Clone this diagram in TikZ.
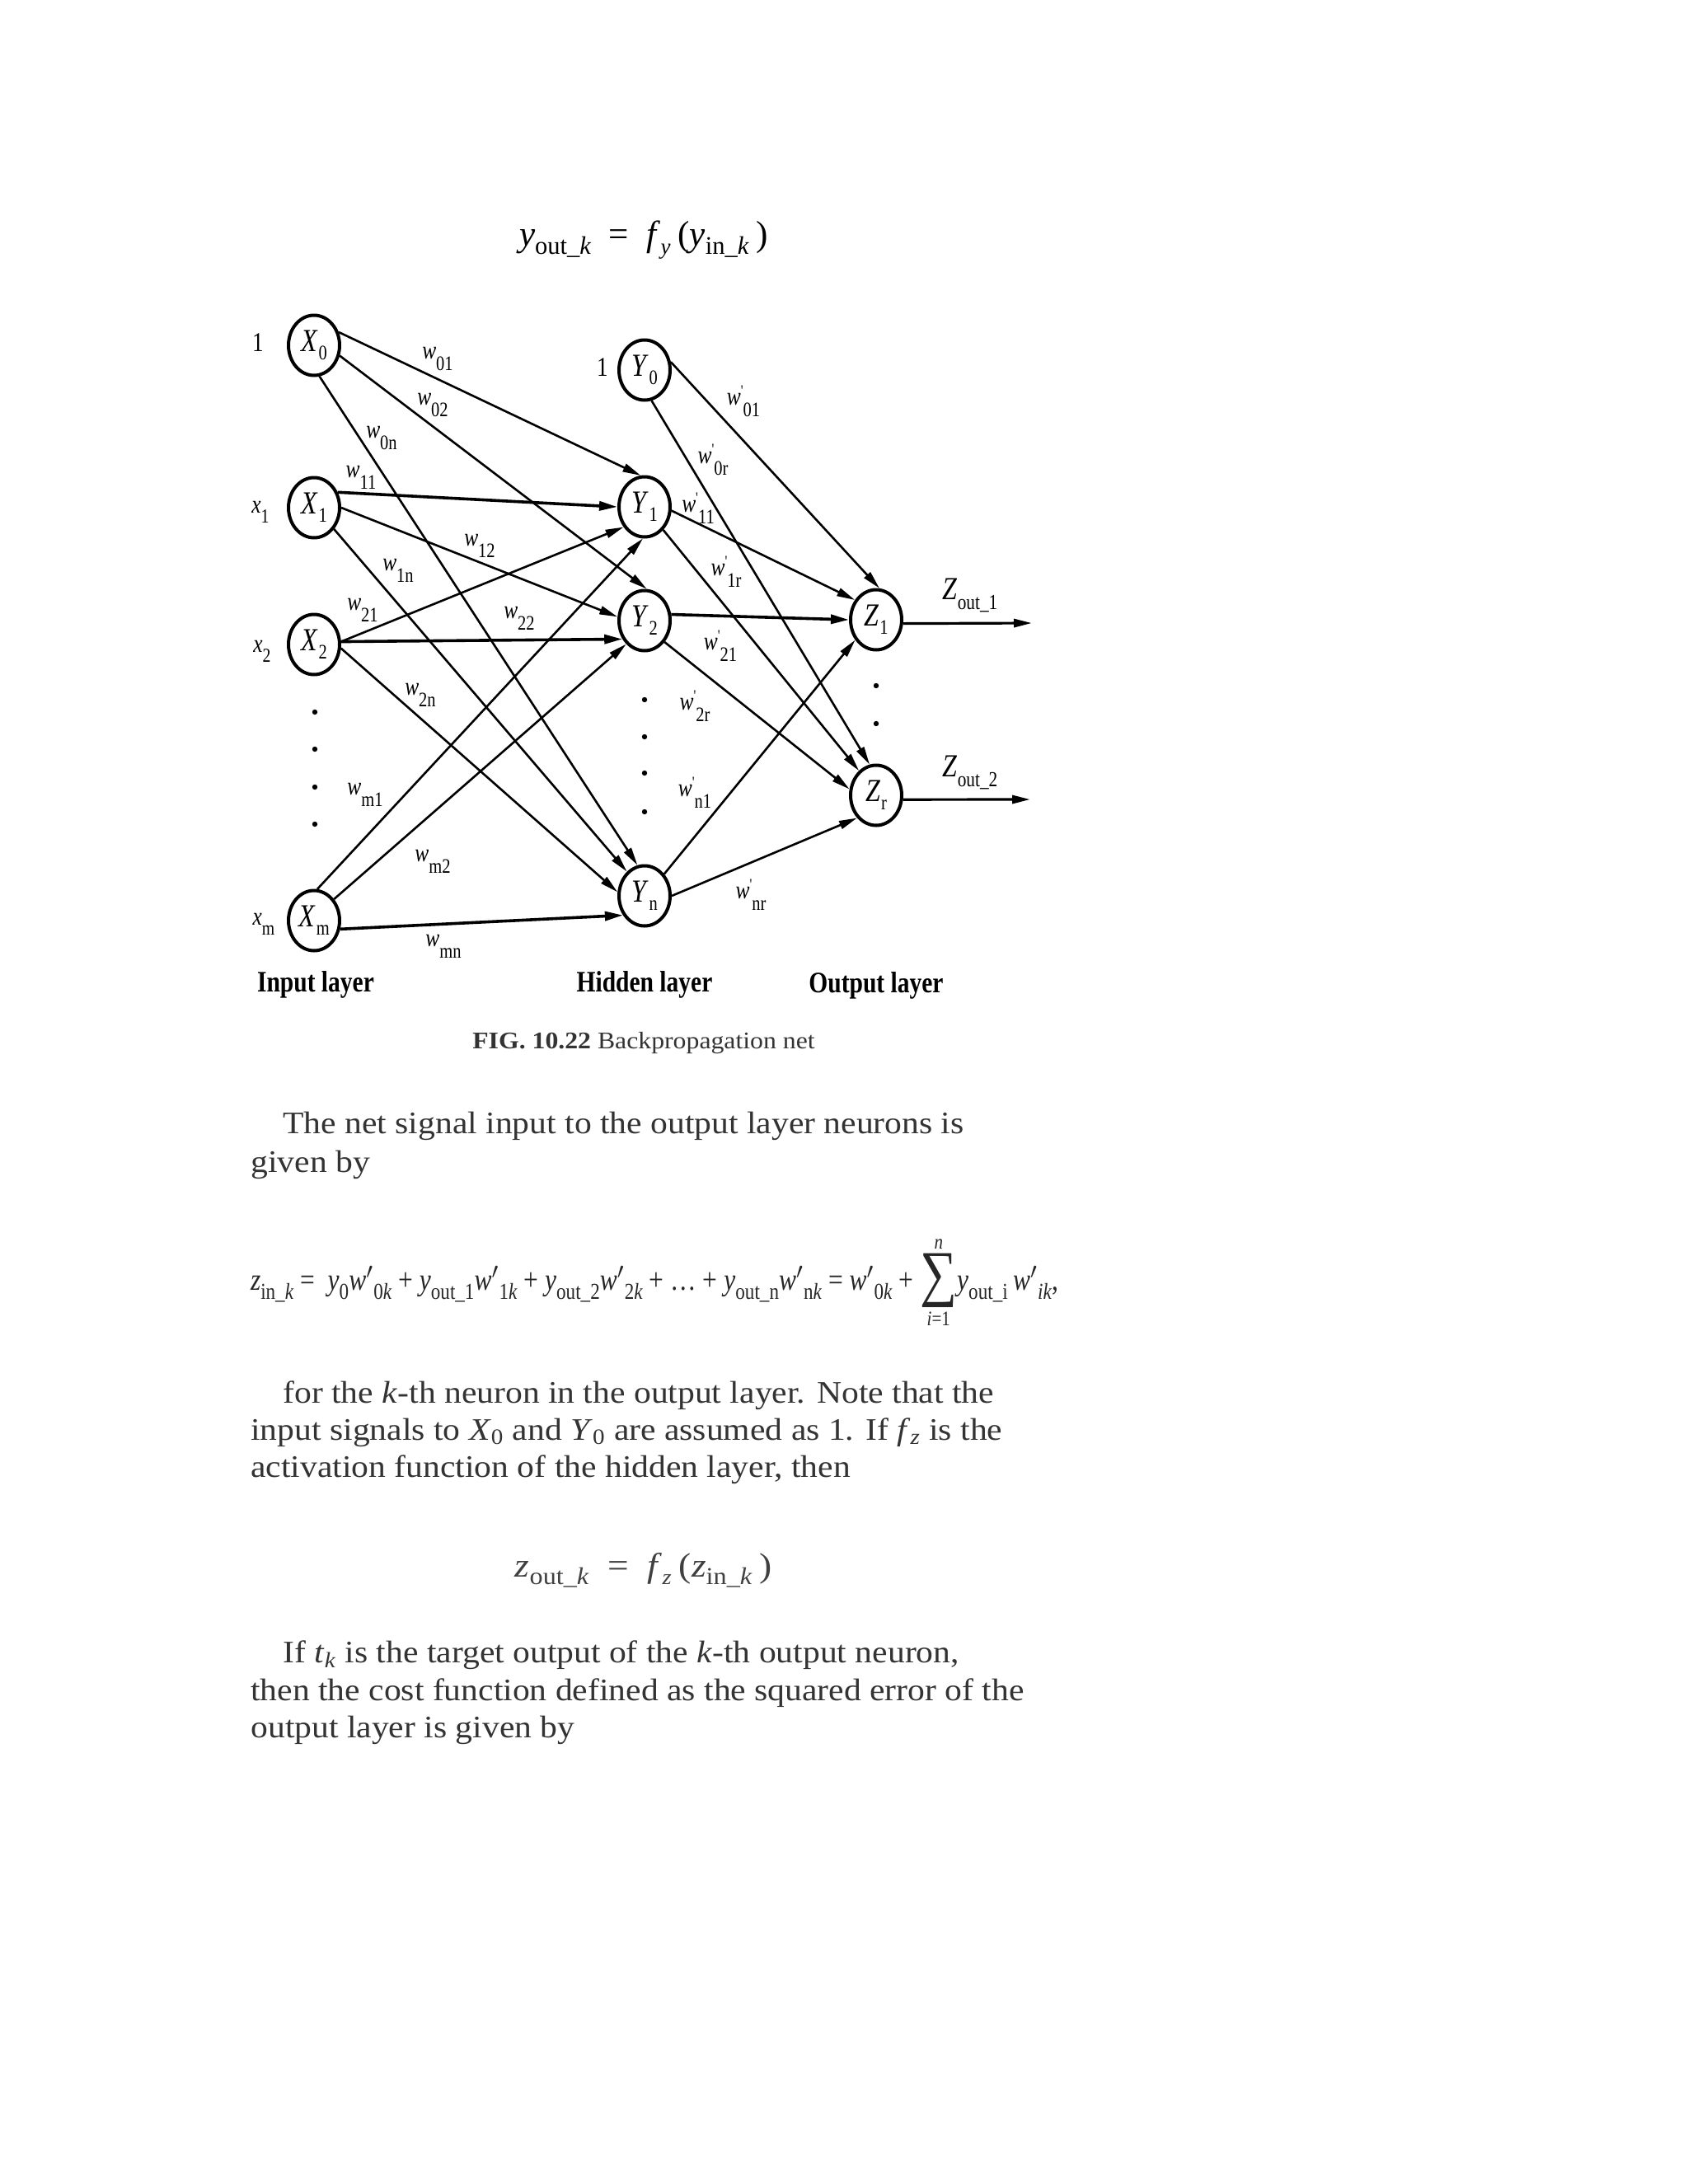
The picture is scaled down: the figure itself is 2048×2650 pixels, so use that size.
\documentclass[tikz,border=0pt]{standalone}
\usepackage{fontspec}
\usepackage{graphicx}
\setmainfont{Liberation Serif}
\newfontfamily\dgf{Liberation Serif}[FakeStretch=0.82]
\newfontfamily\txf{Liberation Serif}[FakeStretch=1.095]
\usetikzlibrary{arrows.meta,shapes.geometric}

\newcommand{\fs}[1]{\fontsize{#1}{#1}\selectfont}
\newcommand{\lw}[2]{\raisebox{-#1}{#2}}
\newcommand{\nlab}[2]{{\dgf\fs{19.5}\textit{#1}\kern0.5pt\lw{5pt}{\fs{12.5}#2}}}
\newcommand{\wlab}[1]{{\dgf\fs{15.5}\textit{w}\lw{7pt}{\fs{12.5}#1}}}
\newcommand{\wplab}[1]{{\dgf\fs{15.5}\textit{w}\raisebox{5.5pt}{\fs{9.5}'}\lw{7pt}{\fs{12.5}#1}}}
\newcommand{\xlab}[2]{{\dgf\fs{15.5}\textit{#1}\lw{6pt}{\fs{12}#2}}}
\newcommand{\zlab}[1]{{\dgf\fs{19.5}\textit{Z}\lw{6pt}{\fs{13}out\_#1}}}
\newcommand{\lsub}[1]{\raisebox{-0.3em}{\fs{11}#1}}
\newcommand{\bsub}[1]{\raisebox{-0.22em}{\fs{17}#1}}
\newcommand{\sumstack}{\ensuremath{\vcenter{\offinterlineskip\halign{\hfil##\hfil\cr
  {\fs{10}\textit{n}}\cr\noalign{\kern2pt}
  {\fs{30}\char"2211}\cr\noalign{\kern2pt}
  {\fs{10}\textit{i}=1}\cr}}}}

\tikzset{
  neuron/.style={ellipse, draw, line width=2pt, minimum width=31pt, minimum height=36.5pt, inner sep=0pt},
  syn/.style={line width=1.3pt, -{Triangle[length=11pt,width=5pt]}},
  thick syn/.style={line width=1.8pt, -{Triangle[length=11pt,width=5.5pt]}},
  lbl/.style={inner sep=0pt},
  layer/.style={inner sep=0pt, font=\dgf\fs{18}\bfseries},
  para/.style={inner sep=0pt, anchor=base west, text=black!80, font=\txf\fs{19}},
}

\begin{document}
\begin{tikzpicture}[x=0.5pt,y=-0.5pt]
\useasboundingbox (0,0) rectangle (2048,2650);
\fill[white] (0,0) rectangle (2048,2650);

% top formula
\node[lbl] (fy) at (781,291) {\resizebox*{151pt}{23pt}{\dgf\fs{24}\textit{y}\bsub{out\_\textit{k}}\ \ =\ \ \textit{f}\raisebox{-0.22em}{\fs{15}\textit{y}}\,(\textit{y}\bsub{in\_\textit{k}}\,)}};

% neurons
\node[neuron] (X0) at (381,419) {\nlab{X}{0}};
\node[neuron] (X1) at (381,616) {\nlab{X}{1}};
\node[neuron] (X2) at (381,782) {\nlab{X}{2}};
\node[neuron] (Xm) at (381,1117) {\nlab{X}{m}};
\node[neuron] (Y0) at (782,449) {\nlab{Y}{0}};
\node[neuron] (Y1) at (782,615) {\nlab{Y}{1}};
\node[neuron] (Y2) at (782,753) {\nlab{Y}{2}};
\node[neuron] (Yn) at (782,1087) {\nlab{Y}{n}};
\node[neuron] (Z1) at (1063,752) {\nlab{Z}{1}};
\node[neuron] (Zr) at (1063,965) {\nlab{Z}{r}};

% input labels
\node[lbl] (in0) at (313,416) {\dgf\fs{16.5}1};
\node[lbl] (in1) at (316,621) {\xlab{x}{1}};
\node[lbl] (in2) at (318,790) {\xlab{x}{2}};
\node[lbl] (inm) at (320,1121) {\xlab{x}{m}};
\node[lbl] (iny) at (731,446) {\dgf\fs{16.5}1};

% dots
\foreach \yy in {864,909,955,1000} \fill (382,\yy) circle[radius=1.6pt];
\foreach \yy in {849,894,938,985} \fill (782,\yy) circle[radius=1.6pt];
\foreach \yy in {832,878} \fill (1063,\yy) circle[radius=1.6pt];

% input -> hidden
\draw[syn] (X0.28) -- (Y1.97);
\draw[syn] (X0.-22) -- (Y2.86);
\draw[syn] (X0.-80) -- (Yn.103);
\draw[thick syn] (X1.33) -- (Y1.180);
\draw[syn] (X1.0) -- (Y2.172);
\draw[syn] (X1.-47) -- (Yn.126);
\draw[syn] (X2.6) -- (Y1.224);
\draw[thick syn] (X2.6) -- (Y2.220);
\draw[syn] (X2.-8) -- (Yn.172);
\draw[syn] (Xm.84) -- (Y1.267);
\draw[syn] (Xm.47) -- (Y2.232);
\draw[thick syn] (Xm.-18) -- (Yn.222);

% hidden -> output
\draw[syn] (Y0.17) -- (Z1.84);
\draw[syn] (Y0.-77) -- (Zr.102);
\draw[syn] (Y1.-8) -- (Z1.137);
\draw[syn] (Y1.-51) -- (Zr.125);
\draw[thick syn] (Y2.13) -- (Z1.180);
\draw[syn] (Y2.-47) -- (Zr.167);
\draw[syn] (Yn.48) -- (Z1.224);
\draw[syn] (Yn.0) -- (Zr.230);

% outputs
\coordinate (o1) at (1252,756);
\coordinate (o2) at (1250,970);
\draw[syn,line width=1.6pt] (Z1.-8) -- (o1);
\draw[syn,line width=1.6pt] (Zr.-9) -- (o2);
\node[lbl] (zo1) at (1177,722) {\zlab{1}};
\node[lbl] (zo2) at (1177,937) {\zlab{2}};

% weight labels
\node[lbl] (w01) at (531,436) {\wlab{01}};
\node[lbl] (w02) at (525,492) {\wlab{02}};
\node[lbl] (w0n) at (463,532) {\wlab{0n}};
\node[lbl] (w11) at (438,579) {\wlab{11}};
\node[lbl] (w12) at (582,662) {\wlab{12}};
\node[lbl] (w1n) at (483,692) {\wlab{1n}};
\node[lbl] (w21) at (440,740) {\wlab{21}};
\node[lbl] (w22) at (630,750) {\wlab{22}};
\node[lbl] (w2n) at (510,843) {\wlab{2n}};
\node[lbl] (wm1) at (443,964) {\wlab{m1}};
\node[lbl] (wm2) at (525,1045) {\wlab{m2}};
\node[lbl] (wmn) at (538,1148) {\wlab{mn}};
\node[lbl] (v01) at (902,487) {\wplab{01}};
\node[lbl] (v0r) at (865,558) {\wplab{0r}};
\node[lbl] (v11) at (847,617) {\wplab{11}};
\node[lbl] (v1r) at (881,694) {\wplab{1r}};
\node[lbl] (v21) at (874,784) {\wplab{21}};
\node[lbl] (v2r) at (843,857) {\wplab{2r}};
\node[lbl] (vn1) at (843,962) {\wplab{n1}};
\node[lbl] (vnr) at (911,1086) {\wplab{nr}};

% layer labels
\node[layer] (Lin) at (383,1195) {Input layer};
\node[layer] (Lhid) at (782,1195) {Hidden layer};
\node[layer] (Lout) at (1063,1196) {Output layer};

% caption
\node[inner sep=0pt, anchor=base, text=black!80, font=\txf\fs{14.5}] (cap) at (781,1272) {\textbf{FIG. 10.22} Backpropagation net};

% text
\node[para] (p1) at (343,1375) {The net signal input to the output layer neurons is};
\node[para] (p2) at (304,1422) {given by};

\node[lbl, text=black!85] (zin) at (794,1556) {\resizebox*{490pt}{52pt}{\dgf\fs{15}\textit{z}\lsub{in\_\textit{k}}\ =\ \ \textit{y}\lsub{0}\textit{w}$'$\lsub{0\textit{k}} + \textit{y}\lsub{out\_1}\textit{w}$'$\lsub{1\textit{k}} + \textit{y}\lsub{out\_2}\textit{w}$'$\lsub{2\textit{k}} + \dots{} + \textit{y}\lsub{out\_n}\textit{w}$'$\lsub{n\textit{k}} = \textit{w}$'$\lsub{0\textit{k}} + \sumstack\textit{y}\lsub{out\_i}\,\textit{w}$'$\lsub{\textit{ik}},}};

\node[para] (p3) at (343,1702) {for the \textit{k}-th neuron in the output layer. Note that the};
\node[para] (p4) at (304,1747) {input signals to \textit{X}\textsubscript{0} and \textit{Y}\textsubscript{0} are assumed as 1. If \textit{f}\textsubscript{\textit{z}} is the};
\node[para] (p5) at (304,1792) {activation function of the hidden layer, then};

\node[lbl, text=black!75] (fz) at (781,1905) {\resizebox*{156pt}{21pt}{\dgf\fs{24}\textit{z}\bsub{out\_\textit{k}}\ \ =\ \ \textit{f}\raisebox{-0.22em}{\fs{15}\textit{z}}\,(\textit{z}\bsub{in\_\textit{k}}\,)}};

\node[para] (p6) at (343,2017) {If \textit{t}\textsubscript{\textit{k}} is the target output of the \textit{k}-th output neuron,};
\node[para] (p7) at (304,2063) {then the cost function defined as the squared error of the};
\node[para] (p8) at (304,2108) {output layer is given by};
\end{tikzpicture}
\end{document}
